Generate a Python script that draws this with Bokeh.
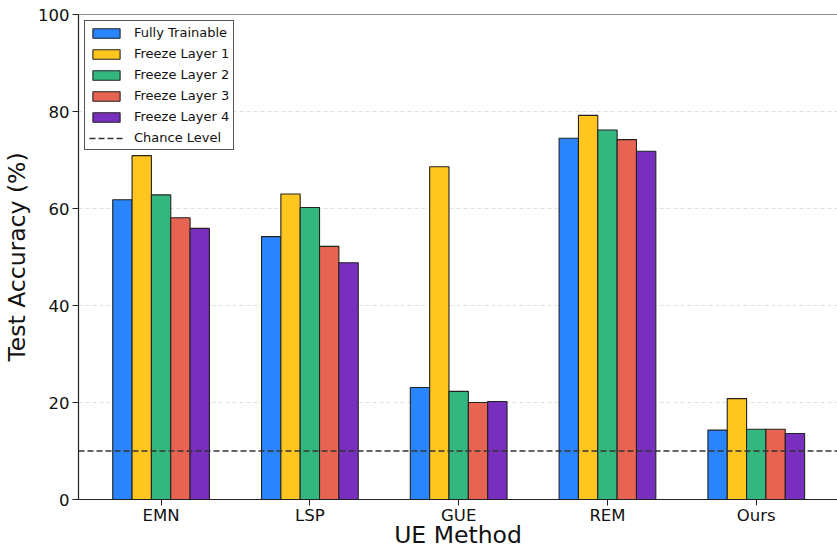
from bokeh.plotting import figure
from bokeh.models import Range1d, FixedTicker, Span, Legend, LegendItem
from bokeh.embed import file_html
from bokeh.resources import INLINE

methods = ["EMN", "LSP", "GUE", "REM", "Ours"]
series_names = ["Fully Trainable", "Freeze Layer 1", "Freeze Layer 2", "Freeze Layer 3", "Freeze Layer 4"]
fully_trainable = [61.8, 54.2, 23.1, 74.5, 14.3]
freeze_layer_1 = [70.9, 63.0, 68.6, 79.2, 20.8]
freeze_layer_2 = [62.8, 60.2, 22.3, 76.2, 14.5]
freeze_layer_3 = [58.1, 52.2, 20.0, 74.2, 14.5]
freeze_layer_4 = [55.9, 48.8, 20.2, 71.8, 13.6]
chance_level = 10
y_ticks = [0, 20, 40, 60, 80, 100]

series = [fully_trainable, freeze_layer_1, freeze_layer_2, freeze_layer_3, freeze_layer_4]
colors = ["#2a84fc", "#ffc61f", "#33b77f", "#e86452", "#782fbd"]
FONT = "DejaVu Sans"

p = figure(width=837, height=551, output_backend="svg", toolbar_location=None,
           x_range=Range1d(-0.555, 4.546), y_range=Range1d(0, 100),
           min_border_left=77, min_border_right=0, min_border_top=14, min_border_bottom=52)
p.outline_line_color = None
p.background_fill_color = "white"
p.border_fill_color = "white"

bar_w = 0.13
items = []
xs_base = list(range(len(methods)))
for k, (name, vals, col) in enumerate(zip(series_names, series, colors)):
    xs = [x + (k - 2) * bar_w for x in xs_base]
    r = p.vbar(x=xs, top=vals, width=bar_w, bottom=0, fill_color=col, fill_alpha=1.0,
               line_color="#222222", line_width=1.1)
    items.append(LegendItem(label=name, renderers=[r]))

lr = p.line(x=[-0.555, 4.546], y=[chance_level, chance_level], line_color="#333333",
            line_width=1.5, line_dash="6 3")
items.append(LegendItem(label="Chance Level", renderers=[lr]))

top = Span(location=100, dimension="width", line_color="#222222", line_width=1.2)
p.add_layout(top)

# axes
p.xaxis.ticker = FixedTicker(ticks=xs_base)
p.xaxis.major_label_overrides = {i: m for i, m in enumerate(methods)}
p.yaxis.ticker = FixedTicker(ticks=y_ticks)
for ax in (p.xaxis, p.yaxis):
    ax.axis_line_color = "#222222"
    ax.axis_line_width = 1.2
    ax.major_tick_line_color = "#222222"
    ax.major_tick_out = 6
    ax.major_tick_in = 0
    ax.minor_tick_line_color = None
    ax.major_label_text_font = FONT
    ax.major_label_text_font_size = "16.5px"
    ax.major_label_text_color = "#111111"
    ax.axis_label_text_font = FONT
    ax.axis_label_text_font_size = "23.5px"
    ax.axis_label_text_font_style = "normal"
    ax.axis_label_text_color = "#111111"
    ax.major_label_standoff = 3
p.xaxis.major_label_standoff = 0

p.xaxis.axis_label = "UE Method"
p.yaxis.axis_label = "Test Accuracy (%)"
p.xaxis.axis_label_standoff = -7
p.yaxis.axis_label_standoff = 4

p.xgrid.grid_line_color = None
p.ygrid.ticker = FixedTicker(ticks=[20, 40, 60, 80])
p.ygrid.grid_line_color = "#cccccc"
p.ygrid.grid_line_alpha = 0.6
p.ygrid.grid_line_dash = "4 3"
p.ygrid.grid_line_width = 1

legend = Legend(items=items, location="top_left", margin=6, padding=4, spacing=6,
                glyph_width=34, glyph_height=12, label_height=15, label_standoff=11,
                label_text_font=FONT, label_text_font_size="13px", label_text_color="#111111",
                border_line_color="#444444", border_line_width=1, border_line_alpha=0.9,
                background_fill_color="white", background_fill_alpha=0.9)
p.add_layout(legend)

open("out.html", "w").write(file_html(p, INLINE))
